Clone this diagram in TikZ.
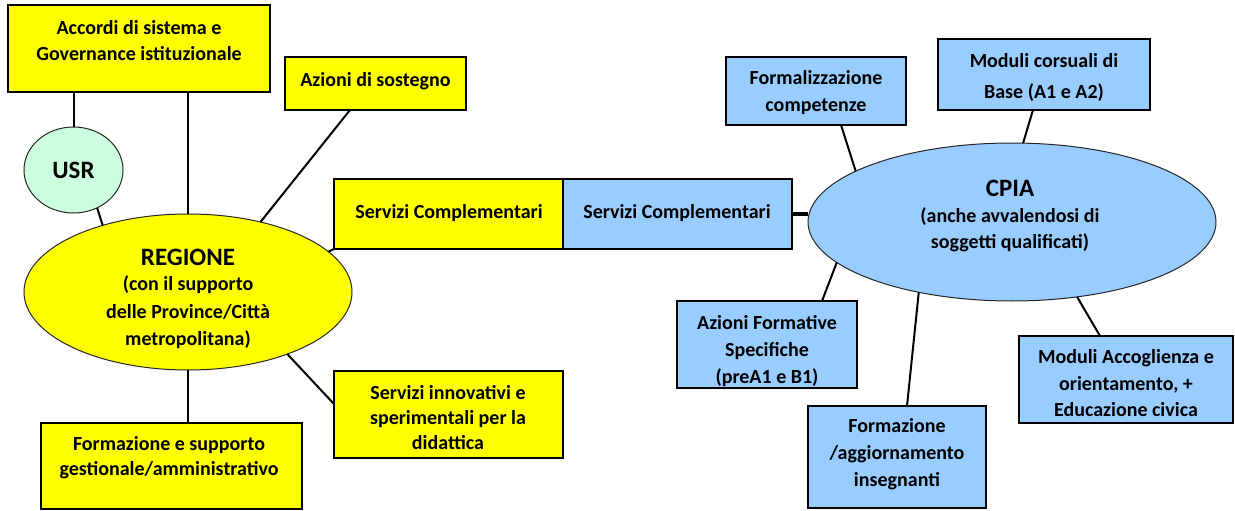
\documentclass[tikz,border=0pt]{standalone}
\usepackage{fontspec}
\setmainfont{Carlito}
\usetikzlibrary{shapes.geometric,calc}
\definecolor{yfill}{HTML}{FFFF00}
\definecolor{bfill}{HTML}{99CCFF}
\definecolor{gfill}{HTML}{CCFFDD}
\tikzset{
  boxbase/.style={rectangle, draw=black, line width=2.5pt, outer sep=0pt, inner sep=0pt},
  ybox/.style={boxbase, fill=yfill},
  bbox/.style={boxbase, fill=bfill},
  ell/.style={ellipse, draw=black!85, line width=1pt, outer sep=0pt, inner sep=0pt},
  txt/.style={align=center, inner sep=0pt, font=\bfseries\fontsize{20}{26}\selectfont},
  bigtxt/.style={align=center, inner sep=0pt, font=\bfseries\fontsize{25}{30}\selectfont},
  conn/.style={line width=2pt, draw=black},
}
\begin{document}
\begin{tikzpicture}[x=1pt, y=-1pt]
\useasboundingbox (0,0) rectangle (1235,511);

% ---- yellow side ----
\node[ybox, minimum width=262, minimum height=87] (acc) at (139,48.5) {};
\node[txt] (acct) at (139,40.5) {Accordi di sistema e\\Governance istituzionale};

\node[ybox, minimum width=181, minimum height=53] (az) at (375.5,83.5) {};
\node[txt] (azt) at (375.5,81) {Azioni di sostegno};

\node[ell, fill=gfill, minimum width=99, minimum height=86] (usr) at (73.5,170) {};
\node[bigtxt] (usrt) at (73.5,170) {USR};

\node[ell, fill=yfill, minimum width=328, minimum height=156] (reg) at (188,292) {};
\node[bigtxt] (regt) at (188,257) {REGIONE};
\node[font=\bfseries\fontsize{20}{27.5}\selectfont, align=center, inner sep=0pt] (regs) at (188,312.5) {(con il supporto\\delle Province/Città\\metropolitana)};

\node[ybox, minimum width=229, minimum height=70] (sc1) at (448.5,214) {};
\node[txt] (sc1t) at (449,213) {Servizi Complementari};

\node[ybox, minimum width=229, minimum height=87] (sin) at (448.5,414.5) {};
\node[txt, font=\bfseries\fontsize{20}{25}\selectfont] (sint) at (448,418) {Servizi innovativi e\\sperimentali per la\\didattica};

\node[ybox, minimum width=261, minimum height=86] (fsg) at (171.5,466) {};
\node[txt, font=\bfseries\fontsize{20}{25}\selectfont] (fsgt) at (169,458) {Formazione e supporto\\gestionale/amministrativo};

% ---- blue side ----
\node[bbox, minimum width=229, minimum height=70] (sc2) at (677.5,214) {};
\node[txt] (sc2t) at (677,213) {Servizi Complementari};

\node[ell, fill=bfill, minimum width=408, minimum height=158] (cpia) at (1012,222) {};
\node[bigtxt] (cpiat) at (1010,188) {CPIA};
\node[txt] (cpias) at (1010,230) {(anche avvalendosi di\\soggetti qualificati)};

\node[bbox, minimum width=180, minimum height=68] (form) at (816,91) {};
\node[txt, font=\bfseries\fontsize{20}{27}\selectfont] (formt) at (816,92.5) {Formalizzazione\\competenze};

\node[bbox, minimum width=212, minimum height=71] (mcb) at (1044,74.5) {};
\node[txt, font=\bfseries\fontsize{20}{31}\selectfont] (mcbt) at (1044,77.5) {Moduli corsuali di\\Base (A1 e A2)};

\node[bbox, minimum width=180, minimum height=87] (afs) at (767,344.5) {};
\begin{scope}
  \clip ($(afs.south west)+(1.25,-1.25)$) rectangle ($(afs.north east)+(-1.25,1.25)$);
  \node[txt, font=\bfseries\fontsize{20}{27}\selectfont] (afst) at (767,351.5) {Azioni Formative\\Specifiche\\(preA1 e B1)};
\end{scope}

\node[bbox, minimum width=178, minimum height=102] (fag) at (897,457) {};
\node[txt, font=\bfseries\fontsize{20}{27}\selectfont] (fagt) at (897,454) {Formazione\\/aggiornamento\\insegnanti};

\node[bbox, minimum width=214, minimum height=87] (mac) at (1126,379.5) {};
\node[txt, font=\bfseries\fontsize{20}{26.5}\selectfont] (mact) at (1126,383.5) {Moduli Accoglienza e\\orientamento, +\\Educazione civica};

% ---- connectors ----
\draw[conn] (acc.south -| usr.north) -- (usr.north);
\draw[conn] (reg.north) -- (reg.north |- acc.south);
\draw[conn] (usr.-58) -- (reg.142);
\draw[conn] ($(az.south west)+(65,0)$) -- (reg.44);
\draw[conn] (sc1.south west) -- (reg.16);
\draw[conn] (reg.-32.5) -- ($(sin.west)+(0,-10.5)$);
\draw[conn] (reg.south) -- (reg.south |- fsg.north);
\draw[line width=3.2pt] (sc2.east) -- (sc2.east -| cpia.west);
\draw[conn] ($(form.south)+(25,0)$) -- (cpia.162.4);
\draw[conn] ($(mcb.south)+(-11,0)$) -- (cpia.82);
\draw[conn] ($(afs.north)+(55,0)$) -- (cpia.193.5);
\draw[conn] ($(fag.north)+(10,0)$) -- (cpia.217.4);
\draw[conn] ($(mac.north)+(-26,0)$) -- (cpia.-49.5);
\end{tikzpicture}
\end{document}
